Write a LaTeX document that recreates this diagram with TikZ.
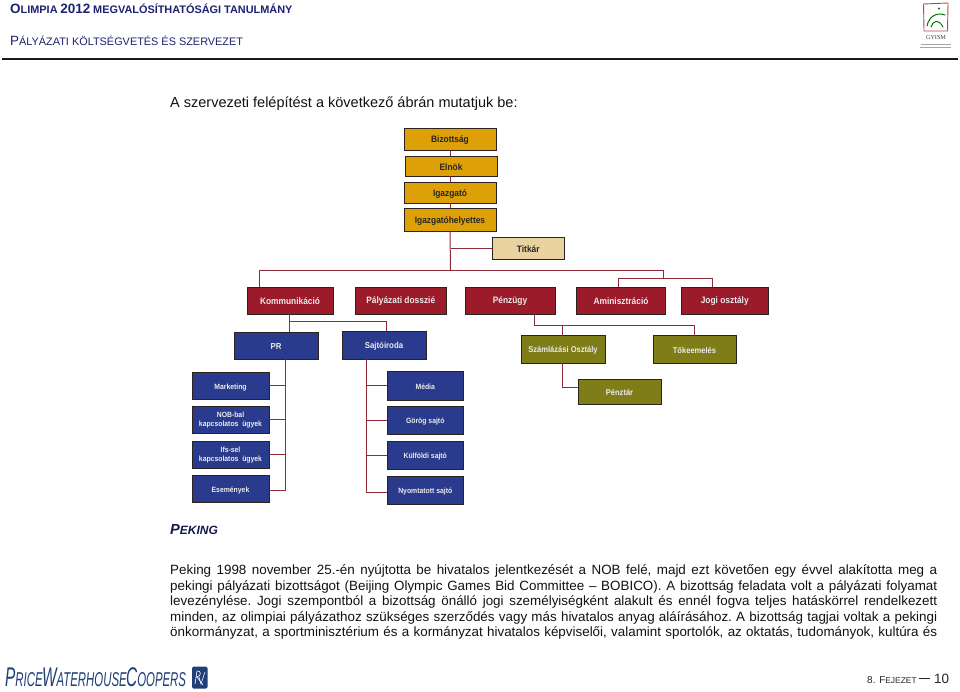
\documentclass[tikz,border=0pt]{standalone}
\usepackage{fontspec}
\setmainfont{Liberation Sans}
\newfontfamily\logoserif{Liberation Serif}
\newfontfamily\boxfont[FakeStretch=0.9]{Liberation Sans}
\definecolor{cgold}{HTML}{DDA006}
\definecolor{ctan}{HTML}{E8D3A0}
\definecolor{cred}{HTML}{9C1B2B}
\definecolor{cblue}{HTML}{2A3A8C}
\definecolor{colive}{HTML}{7E7D18}
\definecolor{cline}{HTML}{8E2A3A}
\definecolor{cedge}{HTML}{2A2320}
\definecolor{cnavy}{HTML}{1C2270}
\definecolor{cpwc}{HTML}{1F3F78}
\definecolor{ctxt}{HTML}{111111}
\newcommand\fs[1]{\fontsize{#1}{#1}\selectfont}
\newcommand\bx[7]{\node[#2,minimum width={(#5-#3)*1pt},minimum height={(#6-#4)*1pt}] (#1) at ({(#3+#5)/2},{(#4+#6)/2}) {#7};}
\tikzset{
  box/.style={draw=cedge,line width=0.9pt,inner sep=0pt,align=center,font=\boxfont\bfseries\fs{9.3},execute at begin node={\rule{0pt}{8.5pt}}},
  goldbox/.style={box,fill=cgold,text=black!85},
  tanbox/.style={box,fill=ctan,text=black!85},
  redbox/.style={box,fill=cred,text=white!92!black},
  bluebox/.style={box,fill=cblue,text=white!92!black,font=\boxfont\bfseries\fs{8.7}},
  smallblue/.style={box,fill=cblue,text=white!92!black,font=\boxfont\bfseries\fs{7.6}},
  olivebox/.style={box,fill=colive,text=white!92!black,font=\boxfont\bfseries\fs{8.4}},
  conn/.style={draw=cline,line width=1pt},
  bodyline/.style={anchor=base west,inner sep=0pt,text=ctxt,font=\fs{13.4}\frenchspacing},
}
\newcommand\jl[1]{\hbox to 767pt{#1}}
\begin{document}
\begin{tikzpicture}[x=1pt,y=-1pt]
\useasboundingbox (0,0) rectangle (960,692);
% header
\node[anchor=base west,inner sep=0pt,text=cnavy,font=\bfseries] (h1) at (10,13.5) {{\fs{13.5}O}{\fs{10.9}LIMPIA} {\fs{13.5}2012} {\fs{10.9}MEGVALÓSÍTHATÓSÁGI TANULMÁNY}};
\node[anchor=base west,inner sep=0pt,text=cnavy] (h2) at (10,46) {{\fs{13.4}P}{\fs{10.9}ÁLYÁZATI KÖLTSÉGVETÉS ÉS SZERVEZET}};
\coordinate (ra) at (2,59); \coordinate (rb) at (958,59);
\draw[line width=2.2pt,black!90] (ra) -- (rb);
% GYISM logo
\draw[line width=0.9pt,cred!80] (923.5,4) -- (948,3) -- (947.5,31) -- (924,31) -- cycle;
\fill[green!45!black] (939,8.5) circle (1.2);
\draw[line width=1pt,green!45!black,line cap=round] (927,26) .. controls (929,16) and (937,12) .. (945,15);
\draw[line width=1pt,green!45!black,line cap=round] (931,27) .. controls (933,21) and (938,18) .. (943,27);
\node[inner sep=0pt,text=black!75,font=\logoserif\fs{6.2}] (gy) at (936,37) {GYISM};
\draw[line width=0.7pt,black!35] (921,44) -- (951,44);
\draw[line width=0.7pt,black!35] (920,47.5) -- (951,47.5);
% intro
\node[bodyline,font=\fs{14.5}] (intro) at (170,107.5) {A szervezeti felépítést a következő ábrán mutatjuk be:};
% boxes
\bx{biz}{goldbox}{404}{128}{496}{150.5}{Bizottság}
\bx{eln}{goldbox}{405}{156}{497}{176}{Elnök}
\bx{iga}{goldbox}{404}{182.5}{496}{203}{Igazgató}
\bx{igh}{goldbox}{404}{208.5}{496}{231}{Igazgatóhelyettes}
\bx{tit}{tanbox}{492}{237}{564.5}{259.5}{Titkár}
\bx{kom}{redbox}{247}{287}{333}{314}{Kommunikáció}
\bx{pal}{redbox}{355.5}{287}{446}{314}{Pályázati dosszié}
\bx{pen}{redbox}{465}{287}{555}{314}{Pénzügy}
\bx{ami}{redbox}{576.5}{287}{665.5}{314}{Aminisztráció}
\bx{jog}{redbox}{681.5}{287}{768}{314}{Jogi osztály}
\bx{pr}{bluebox}{234}{332}{318}{359}{PR}
\bx{saj}{bluebox}{342}{331}{426}{359}{Sajtóiroda}
\bx{sza}{olivebox}{521}{335.5}{605}{363}{Számlázási Osztály}
\bx{tok}{olivebox}{653}{335.5}{736}{363}{Tőkeemelés}
\bx{ptr}{olivebox}{578}{379}{661}{404}{Pénztár}
\bx{mar}{smallblue}{192}{372}{269}{399.5}{Marketing}
\bx{nob}{smallblue}{192}{406}{269}{433.5}{NOB-bal\\[1.5pt]kapcsolatos\ \ ügyek}
\bx{ifs}{smallblue}{192}{441}{269}{468.5}{Ifs-sel\\[1.5pt]kapcsolatos\ \ ügyek}
\bx{ese}{smallblue}{192}{475}{269}{502.5}{Események}
\bx{med}{smallblue}{387}{371.5}{463.5}{400}{Média}
\bx{gor}{smallblue}{387}{406}{463.5}{434}{Görög sajtó}
\bx{kul}{smallblue}{387}{441}{463.5}{469}{Külföldi sajtó}
\bx{nyo}{smallblue}{387}{476}{463.5}{504}{Nyomtatott sajtó}
% connector junctions
\coordinate (t1) at (450.5,271);
\coordinate (kt) at (259.5,287);
\coordinate (mt) at (663,271);
\coordinate (mj) at (663,278.5);
\coordinate (at) at (618,287);
\coordinate (jt) at (712,287);
\coordinate (kb) at (289,314);
\coordinate (kj) at (289,321.5);
\coordinate (pt) at (289,332);
\coordinate (st) at (386,331);
\coordinate (ptb) at (285.5,359);
\coordinate (ptl) at (285.5,490);
\coordinate (sjb) at (366.5,359);
\coordinate (sjl) at (366.5,492);
\coordinate (pb) at (534.5,314);
\coordinate (pj) at (534.5,325);
\coordinate (zt) at (562,335.5);
\coordinate (ot) at (694,335.5);
\coordinate (zb) at (562,363);
\coordinate (pw) at (578,387);
% connectors
\draw[conn] (biz.south) -- (biz.south |- eln.north);
\draw[conn] (eln.south -| iga.south) -- (iga.north);
\draw[conn] (iga.south) -- (igh.north);
\draw[conn] (igh.south) -- (t1);
\draw[conn] (tit.west) -- (tit.west -| t1);
\draw[conn] (kt) |- (mt) -- (mj);
\draw[conn] (at) |- (mj) -| (jt);
\draw[conn] (kb) -- (pt);
\draw[conn] (kj) -| (st);
\draw[conn] (ptb) -- (ptl) -- (ese.east |- ptl);
\draw[conn] (mar.east) -- (mar.east -| ptb);
\draw[conn] (nob.east) -- (nob.east -| ptb);
\draw[conn] (ifs.east) -- (ifs.east -| ptb);
\draw[conn] (sjb) -- (sjl) -- (nyo.west |- sjl);
\draw[conn] (med.west) -- (med.west -| sjb);
\draw[conn] (gor.west) -- (gor.west -| sjb);
\draw[conn] (kul.west) -- (kul.west -| sjb);
\draw[conn] (pb) -- (pj) -| (ot);
\draw[conn] (zt) -- (zt |- pj);
\draw[conn] (zb) |- (pw);
% body
\node[anchor=base west,inner sep=0pt,text=cnavy!70!black,font=\bfseries\itshape] (pek) at (170,534.5) {{\fs{14.6}P}{\fs{12}EKING}};
\node[bodyline] (l1) at (170,574) {\jl{Peking 1998 november 25.-én nyújtotta be hivatalos jelentkezését a NOB felé, majd ezt követően egy évvel alakította meg a}};
\node[bodyline] (l2) at (170,590) {\jl{pekingi pályázati bizottságot (Beijing Olympic Games Bid Committee – BOBICO). A bizottság feladata volt a pályázati folyamat}};
\node[bodyline] (l3) at (170,605.5) {\jl{levezénylése. Jogi szempontból a bizottság önálló jogi személyiségként alakult és ennél fogva teljes hatáskörrel rendelkezett}};
\node[bodyline] (l4) at (170,621) {\jl{minden, az olimpiai pályázathoz szükséges szerződés vagy más hivatalos anyag aláírásához. A bizottság tagjai voltak a pekingi}};
\node[bodyline] (l5) at (170,636.5) {\jl{önkormányzat, a sportminisztérium és a kormányzat hivatalos képviselői, valamint sportolók, az oktatás, tudományok, kultúra és}};
% footer logo
\node[anchor=base west,inner sep=0pt,text=cpwc,font=\itshape] (pwc) at (5,686) {\scalebox{0.57}[1]{{\fs{27}P}{\fs{20}RICE}\hspace{-1pt}{\fs{27}W}{\fs{20}ATERHOUSE}\hspace{-1pt}{\fs{27}C}{\fs{20}OOPERS}}};
\fill[cpwc,rounded corners=1.5pt] (192,666.5) rectangle (207.5,688.5);
\draw[white,line width=0.6pt] (195,684) -- (197,671) .. controls (201,670) and (202,676) .. (197,677) -- (203,685);
\draw[white,line width=0.6pt] (199,677) -- (201,684) -- (205,672);
% page footer
\node[anchor=base west,inner sep=0pt,text=black!85] (ft) at (867,683) {{\fs{10}8. F}{\fs{8.4}EJEZET}};
\coordinate (da) at (918.5,678.5); \coordinate (db) at (930,678.5);
\draw[line width=0.8pt,black!85] (da) -- (db);
\node[anchor=base west,inner sep=0pt,text=black!85,font=\fs{13.5}] (pn) at (934,683) {10};
\end{tikzpicture}
\end{document}
